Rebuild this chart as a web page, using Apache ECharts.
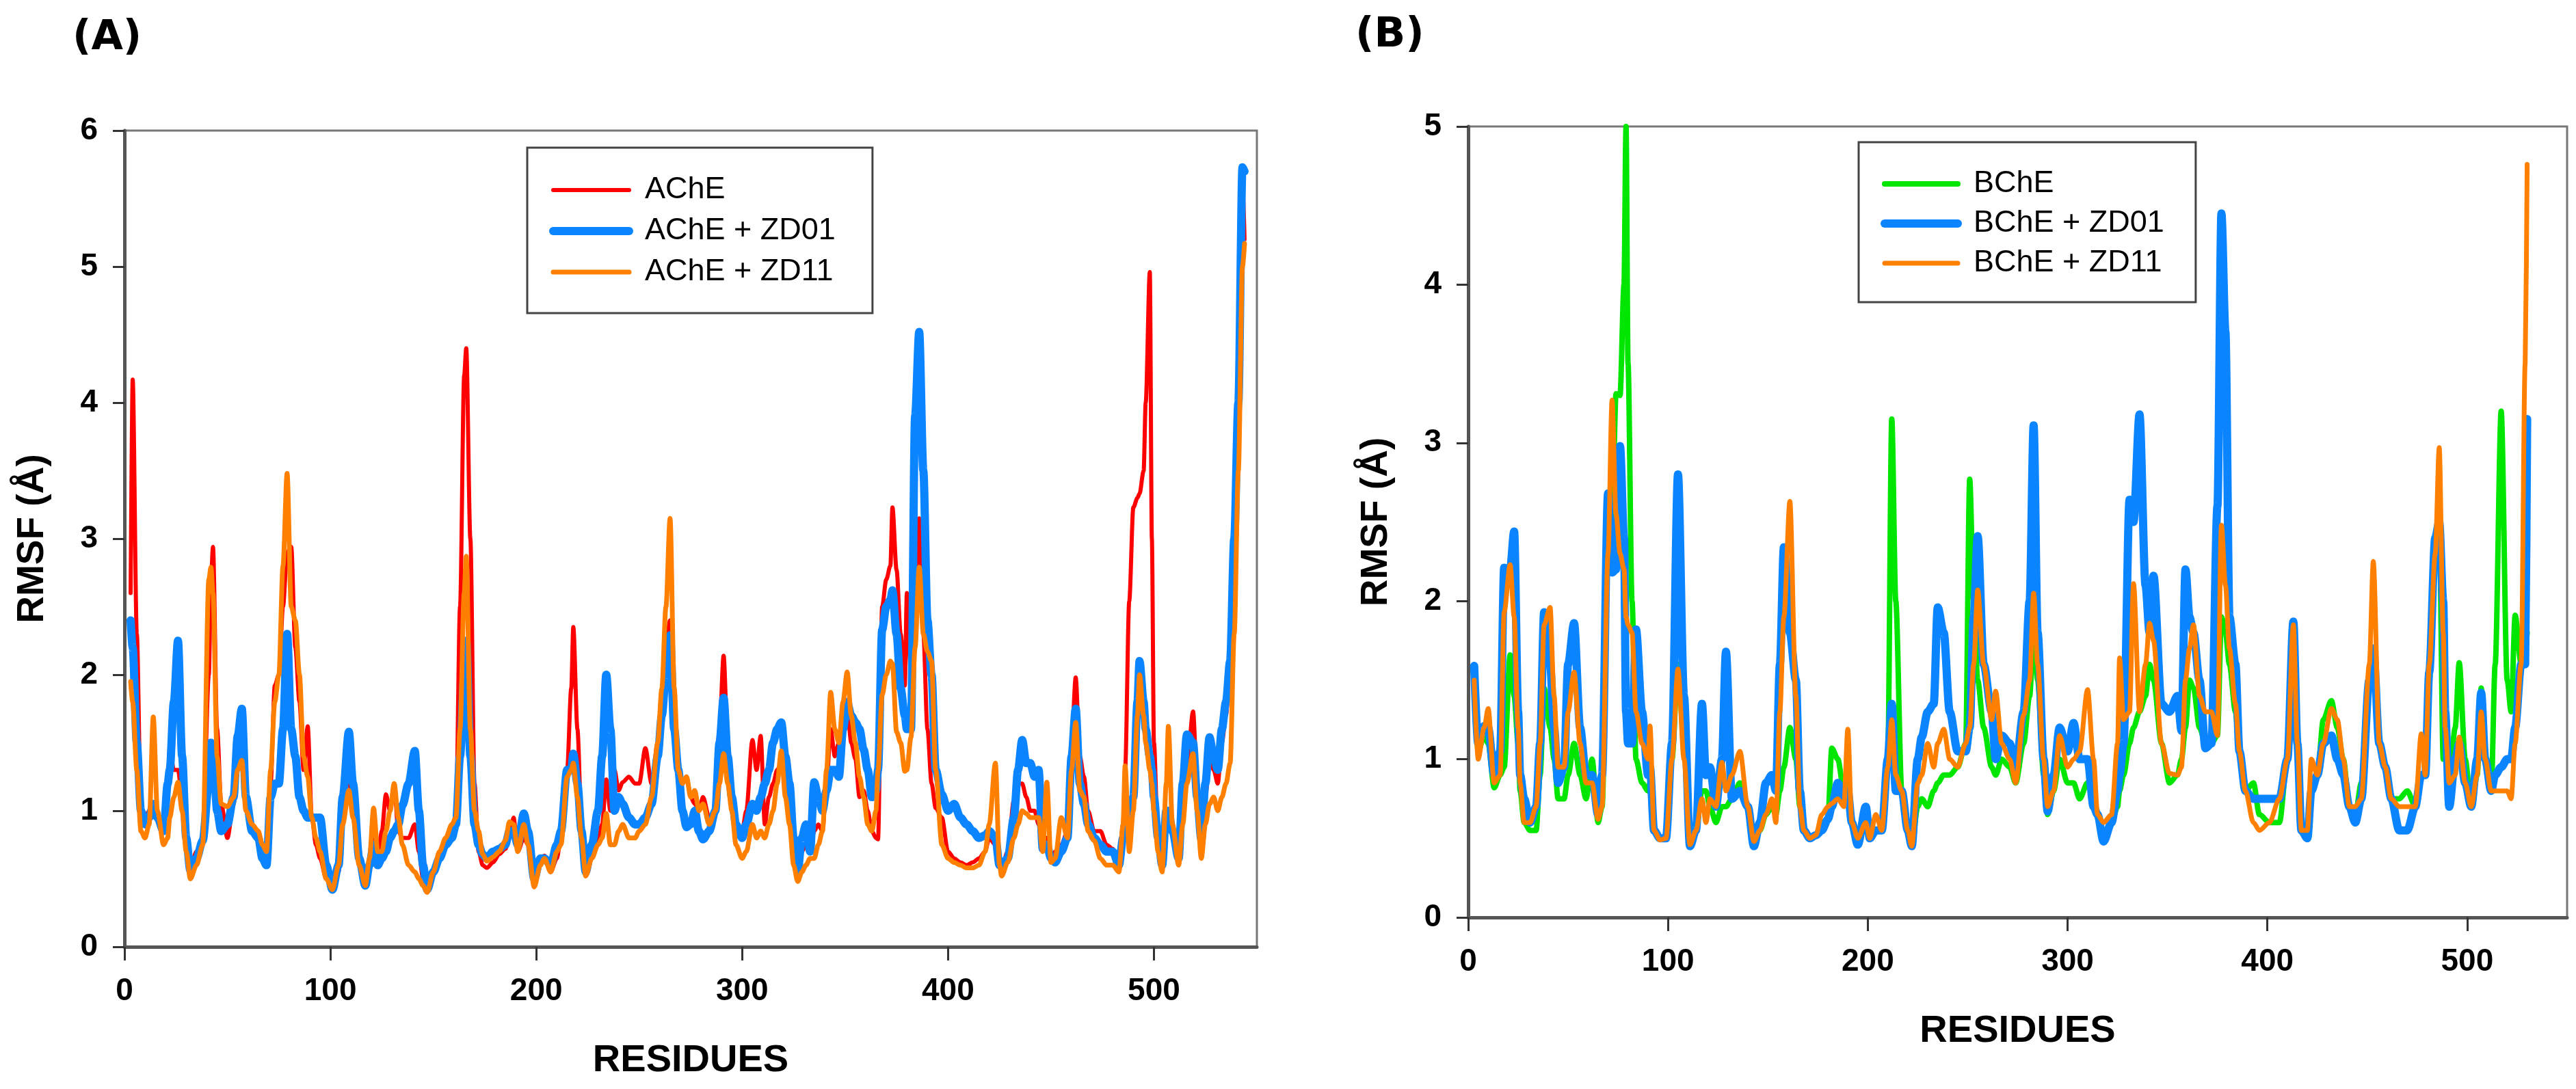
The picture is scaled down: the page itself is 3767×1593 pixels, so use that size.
<!DOCTYPE html>
<html>
<head>
<meta charset="utf-8">
<script src="https://cdn.jsdelivr.net/npm/echarts@6/dist/echarts.min.js"></script>
<style>
html,body{margin:0;padding:0;background:#fff;}
#chart{width:3767px;height:1593px;}
</style>
</head>
<body>
<div id="chart"></div>
<script>
// ---------- Tick labels ----------
const xTicks = [0, 100, 200, 300, 400, 500];

// ---------- Panel A: AChE ----------
const resA = [
  3,4,6,8,10,12,14,16,19,21,
  22,24,26,28,30,32,35,38,41,42,
  43,45,47,50,53,55,57,59,62,65,
  67,69,71,73,75,77,79,81,83,85,
  87,89,91,93,95,98,101,104,106,109,
  111,114,117,119,121,123,125,127,129,131,
  133,135,138,141,143,145,147,150,153,156,
  159,161,163,165,166,168,170,172,174,176,
  179,182,185,187,189,191,194,196,199,202,
  204,207,210,212,215,217,218,220,222,224,
  227,230,232,234,236,238,240,242,245,248,
  250,253,256,259,261,263,265,267,269,271,
  273,275,277,279,281,284,287,289,291,293,
  295,297,300,302,305,307,309,311,313,315,
  317,319,321,323,325,327,329,331,333,335,
  337,339,341,343,345,347,349,351,353,355,
  357,359,361,363,365,366,368,370,372,373,
  375,377,379,380,382,384,386,388,390,392,
  394,397,400,403,406,409,412,415,418,420,
  423,425,426,429,432,434,436,438,440,442,
  444,446,448,450,452,455,458,460,462,464,
  466,468,471,474,477,480,483,485,486,488,
  490,492,493,495,496,498,499,500,502,504,
  506,507,509,512,514,516,519,521,523,525,
  527,529,531,533,535,537,539,541,543,544
];
const ache = [
  2.6,4.17,2.3,1.0,0.95,1.0,1.05,0.95,0.85,1.2,
  1.46,1.3,1.3,1.1,0.75,0.58,0.7,0.8,2.0,2.7,
  2.94,1.6,1.05,0.8,1.05,1.3,1.4,1.0,0.85,0.8,
  0.7,0.65,1.2,1.92,2.0,2.5,2.9,2.94,2.2,1.8,
  1.3,1.62,0.95,0.75,0.65,0.5,0.42,0.55,0.95,1.3,
  1.0,0.6,0.45,0.6,0.8,0.65,0.85,1.12,1.0,1.2,
  0.85,0.8,0.8,0.9,0.7,0.5,0.42,0.55,0.65,0.75,
  0.85,0.95,2.5,4.2,4.4,3.0,1.2,0.7,0.6,0.58,
  0.62,0.68,0.72,0.8,0.95,0.7,0.8,0.75,0.46,0.6,
  0.67,0.55,0.65,0.8,1.3,1.9,2.35,1.6,0.9,0.55,
  0.7,0.8,0.9,1.23,1.0,1.3,1.15,1.21,1.25,1.2,
  1.2,1.46,1.2,1.5,1.88,2.2,2.4,1.8,1.3,1.2,
  1.25,1.1,1.05,1.0,1.1,0.95,1.0,1.6,2.14,1.5,
  1.1,0.9,0.85,1.0,1.52,1.3,1.55,0.9,1.1,1.2,
  1.3,1.35,1.2,0.9,0.75,0.55,0.7,0.75,0.7,0.85,
  0.9,0.85,1.2,1.6,1.4,1.5,1.7,1.75,1.5,1.38,
  1.1,1.15,1.0,0.85,0.8,0.79,2.5,2.7,2.8,3.23,
  2.77,2.3,1.92,2.6,2.0,2.6,3.15,2.3,1.6,1.2,
  1.02,0.95,0.7,0.65,0.62,0.6,0.62,0.65,0.7,0.8,
  0.75,0.6,0.58,0.7,1.08,1.2,1.2,1.1,1.0,1.0,
  0.9,0.72,0.8,0.65,0.7,0.75,0.85,1.5,1.98,1.4,
  1.25,1.0,0.85,0.85,0.75,0.72,0.6,0.9,1.3,2.54,
  3.23,3.3,3.33,3.5,4.0,4.96,3.0,1.5,0.75,0.6,
  1.0,1.0,0.85,0.65,1.0,1.3,1.73,1.2,0.8,1.1,
  1.4,1.3,1.2,1.5,1.7,2.1,3.0,4.0,5.6,5.2
];
const acheZD01 = [
  2.4,2.2,1.5,1.0,0.9,0.95,1.05,0.95,0.85,1.2,
  1.3,1.8,2.25,1.4,0.8,0.56,0.65,0.78,1.2,1.5,
  1.45,1.0,0.85,0.9,1.1,1.55,1.75,1.1,0.85,0.8,
  0.65,0.6,1.1,1.2,1.2,1.6,2.3,1.6,1.4,1.1,
  1.0,0.95,0.95,0.95,0.95,0.6,0.42,0.6,1.1,1.58,
  1.2,0.65,0.45,0.6,0.75,0.6,0.65,0.7,0.8,0.85,
  0.9,1.04,1.2,1.44,1.0,0.6,0.42,0.55,0.65,0.75,
  0.8,0.9,1.4,2.0,2.25,1.4,0.9,0.75,0.68,0.65,
  0.7,0.72,0.75,0.85,0.85,0.75,0.98,0.85,0.5,0.65,
  0.65,0.6,0.75,0.85,1.3,1.3,1.42,1.2,0.85,0.55,
  0.75,1.0,1.4,2.0,1.6,1.0,1.1,1.05,0.95,0.9,
  0.9,0.95,1.05,1.4,1.7,2.0,2.29,1.6,1.3,1.0,
  0.88,0.9,1.0,0.85,0.79,0.85,1.0,1.5,1.83,1.4,
  1.1,0.9,0.8,0.9,1.05,1.0,1.1,1.2,1.3,1.5,
  1.6,1.65,1.4,1.2,0.8,0.55,0.8,0.9,0.7,1.21,
  1.1,1.0,1.15,1.3,1.3,1.25,1.6,1.8,1.7,1.65,
  1.6,1.45,1.3,1.1,1.15,1.3,2.33,2.5,2.55,2.62,
  2.3,1.9,1.7,1.6,1.6,3.9,4.52,3.5,2.4,2.0,
  1.3,1.12,1.0,1.05,0.95,0.9,0.85,0.8,0.82,0.85,
  0.8,0.6,0.6,0.65,0.95,1.3,1.52,1.35,1.35,1.25,
  1.3,0.72,0.75,0.65,0.62,0.7,0.8,1.4,1.75,1.2,
  1.05,0.9,0.8,0.75,0.7,0.7,0.6,0.8,0.9,1.0,
  1.1,1.8,2.1,1.8,1.6,1.4,1.3,1.1,0.8,0.6,
  1.0,1.0,0.85,0.65,1.2,1.56,1.5,1.1,0.79,1.2,
  1.54,1.4,1.3,1.6,1.8,2.1,3.0,4.0,5.73,5.7
];
const acheZD11 = [
  1.95,1.8,1.3,0.85,0.8,0.9,1.69,1.0,0.75,0.8,
  0.95,1.1,1.21,1.0,0.7,0.5,0.6,0.75,2.7,2.79,
  2.6,1.4,1.05,1.03,1.1,1.3,1.37,1.0,0.9,0.85,
  0.75,0.7,1.3,1.8,2.0,2.8,3.48,2.5,2.4,2.0,
  1.4,1.25,0.95,0.8,0.7,0.5,0.42,0.6,0.9,1.15,
  0.95,0.6,0.45,0.65,1.02,0.7,0.7,0.85,1.0,1.2,
  0.95,0.75,0.6,0.55,0.5,0.45,0.4,0.55,0.7,0.8,
  0.9,0.95,1.6,2.6,2.87,1.6,1.0,0.85,0.68,0.63,
  0.66,0.7,0.78,0.92,0.9,0.7,0.9,0.75,0.44,0.6,
  0.65,0.55,0.7,0.75,1.25,1.3,1.35,1.1,0.8,0.52,
  0.65,0.75,0.8,0.98,0.75,0.75,0.85,0.9,0.8,0.8,
  0.85,0.9,1.1,1.5,1.9,2.5,3.15,1.9,1.3,1.2,
  1.25,1.1,1.15,1.0,1.05,0.9,1.0,1.2,1.42,1.2,
  1.0,0.75,0.65,0.7,0.9,0.8,0.85,0.8,0.9,1.0,
  1.2,1.44,1.1,0.9,0.6,0.48,0.55,0.6,0.65,0.65,
  0.75,0.85,1.3,1.87,1.6,1.5,1.8,2.02,1.7,1.5,
  1.25,1.1,0.9,0.85,1.0,1.3,1.85,2.0,2.1,2.08,
  1.58,1.5,1.29,1.3,1.54,2.2,2.79,2.3,2.17,2.1,
  1.3,0.75,0.65,0.62,0.6,0.58,0.58,0.6,0.7,0.9,
  1.35,0.6,0.52,0.62,0.8,0.9,1.0,0.98,0.95,0.95,
  0.95,0.7,1.21,0.62,0.65,0.95,0.8,1.3,1.65,1.15,
  1.1,0.85,0.78,0.65,0.6,0.6,0.55,0.9,1.33,0.7,
  1.0,1.7,2.0,1.7,1.5,1.3,1.2,1.0,0.7,0.55,
  1.2,1.62,0.9,0.6,0.9,1.2,1.42,1.0,0.65,0.9,
  1.05,1.1,1.0,1.1,1.2,1.35,2.3,3.5,5.0,5.17
];

// ---------- Panel B: BChE ----------
const resB = [
  3,5,8,10,13,16,18,21,23,25,
  26,28,31,34,36,38,41,43,45,48,
  50,53,56,59,62,65,67,70,72,74,
  76,78,79,80,82,84,87,90,91,93,
  96,99,102,105,108,111,114,117,119,121,
  124,127,129,132,136,140,143,146,149,152,
  154,156,158,161,164,166,168,171,174,177,
  180,182,185,188,190,192,195,199,201,204,
  207,210,212,214,217,220,222,225,227,230,
  233,235,238,241,245,249,251,253,255,258,
  262,264,267,271,274,278,281,283,285,288,
  290,293,296,300,303,306,310,313,315,318,
  322,325,326,328,331,333,336,339,341,343,
  347,351,355,357,359,361,363,366,369,372,
  375,377,379,381,384,386,389,393,396,401,
  406,410,413,415,417,420,422,425,428,432,
  435,438,441,444,447,451,453,456,459,462,
  466,470,474,477,479,481,484,486,488,489,
  491,494,496,499,502,505,507,509,512,514,
  517,520,522,524,527,529,530
];
const bche = [
  1.5,1.05,1.15,1.1,0.82,0.9,0.95,1.66,1.4,1.1,
  0.8,0.6,0.55,0.55,0.9,1.45,1.2,1.0,0.75,0.75,
  0.9,1.1,0.9,0.75,1.0,0.6,0.7,2.3,2.5,3.31,
  3.3,4.0,5.0,3.5,2.0,1.0,0.85,0.8,0.85,0.55,
  0.5,0.5,1.0,1.6,1.1,0.46,0.55,0.8,0.8,0.7,
  0.6,0.7,0.7,0.75,0.85,0.7,0.48,0.55,0.65,0.7,
  0.65,0.8,0.95,1.2,1.0,0.7,0.55,0.5,0.52,0.6,
  0.62,1.07,1.0,0.8,0.85,0.6,0.48,0.6,0.5,0.55,
  0.55,1.0,3.15,2.0,0.8,0.55,0.45,0.7,0.75,0.7,
  0.8,0.85,0.9,0.9,0.95,1.1,2.77,2.0,1.5,1.2,
  0.95,0.9,1.0,0.95,0.85,1.1,1.4,1.8,1.5,0.9,
  0.65,0.8,1.0,0.85,0.85,0.75,0.85,0.75,0.65,0.5,
  0.6,0.7,0.8,0.9,1.1,1.2,1.3,1.4,1.6,1.5,
  1.1,0.85,0.9,1.0,1.2,1.5,1.45,1.2,1.1,1.1,
  1.15,1.9,1.8,1.6,1.3,1.05,0.8,0.85,0.65,0.6,
  0.6,1.0,1.7,1.1,0.55,0.5,0.8,0.9,1.25,1.37,
  1.2,1.0,0.7,0.65,0.85,1.5,1.7,1.1,0.95,0.75,
  0.75,0.8,0.7,0.9,0.9,1.5,2.3,2.5,1.0,1.0,
  0.85,1.2,1.61,1.0,0.7,0.9,1.45,1.0,0.8,1.6,
  3.2,1.5,1.3,1.91,1.6,1.7,1.8
];
const bcheZD01 = [
  1.59,1.1,1.21,1.2,0.9,1.05,2.21,2.2,2.44,1.3,
  0.9,0.75,0.6,0.7,1.1,1.93,1.6,1.2,0.85,0.95,
  1.6,1.86,1.2,0.9,0.9,0.65,0.9,2.68,2.18,2.2,
  2.98,2.4,1.3,1.1,1.1,1.82,1.3,0.9,0.95,0.55,
  0.5,0.5,1.1,2.8,1.4,0.45,0.55,1.35,0.9,0.95,
  0.7,1.0,1.68,0.75,0.8,0.7,0.45,0.6,0.85,0.9,
  0.8,1.6,2.34,1.8,1.5,0.8,0.55,0.5,0.52,0.55,
  0.62,0.7,0.85,0.75,0.8,0.6,0.46,0.7,0.5,0.55,
  0.55,1.0,1.35,0.8,0.8,0.55,0.45,1.0,1.14,1.3,
  1.35,1.96,1.8,1.3,1.05,1.05,1.2,1.9,2.41,1.6,
  1.3,1.0,1.15,1.1,0.95,1.3,2.0,3.11,1.8,1.0,
  0.67,0.9,1.2,1.05,1.23,1.0,1.0,0.7,0.65,0.48,
  0.6,0.8,0.9,1.1,2.64,2.5,3.18,2.1,1.8,2.16,
  1.35,1.3,1.4,1.18,2.2,1.9,1.8,1.5,1.07,1.1,
  2.6,4.45,3.7,1.9,1.6,1.05,0.8,0.75,0.75,0.75,
  0.75,1.0,1.87,1.1,0.55,0.5,0.8,0.9,1.1,1.15,
  1.0,0.9,0.7,0.6,0.75,1.5,1.7,1.1,0.95,0.75,
  0.55,0.55,0.7,0.9,0.9,1.55,2.4,2.5,2.0,1.3,
  0.7,1.0,1.1,0.85,0.7,1.0,1.42,1.0,0.8,0.9,
  0.95,1.0,1.0,1.2,1.6,1.6,3.15
];
const bcheZD11 = [
  1.5,1.0,1.2,1.32,0.85,0.9,1.93,2.23,1.9,1.2,
  0.85,0.6,0.6,0.7,1.1,1.85,1.96,1.4,0.95,0.95,
  1.3,1.55,1.1,0.85,0.85,0.62,0.7,2.3,3.27,2.55,
  2.3,2.2,1.9,1.85,1.8,1.3,1.1,1.0,1.21,0.55,
  0.49,0.5,1.0,1.57,1.0,0.46,0.55,0.75,0.6,0.75,
  0.7,0.98,0.8,0.9,1.05,0.7,0.48,0.55,0.65,0.75,
  0.6,1.3,1.9,2.63,1.4,0.7,0.55,0.5,0.52,0.65,
  0.7,0.72,0.75,0.7,1.19,0.6,0.5,0.6,0.5,0.65,
  0.55,0.95,1.25,0.9,0.8,0.55,0.45,0.85,0.9,1.1,
  0.95,1.1,1.19,1.0,0.95,1.1,1.2,1.6,2.07,1.6,
  1.25,1.43,1.1,1.0,0.85,1.28,1.5,2.05,1.6,1.0,
  0.7,0.8,1.15,0.95,1.0,1.05,1.44,1.0,0.65,0.6,
  0.65,1.1,1.64,1.25,1.3,2.11,1.3,1.6,1.86,1.75,
  1.1,0.91,0.9,0.95,1.5,1.7,1.85,1.4,1.3,1.3,
  1.15,2.48,2.1,1.7,1.35,1.05,0.8,0.6,0.55,0.6,
  0.75,1.0,1.85,1.1,0.55,0.55,1.0,0.9,1.1,1.32,
  1.25,1.0,0.7,0.7,0.75,1.6,2.25,1.1,0.95,0.75,
  0.7,0.7,0.7,1.16,0.9,1.6,2.3,2.97,1.8,1.2,
  0.85,0.9,1.14,0.85,0.7,0.9,1.3,1.0,0.8,0.8,
  0.8,0.8,0.75,1.1,1.6,3.5,4.76
];

// ---------- Build chart ----------
const pair = (xs, ys) => xs.map((x, i) => [x, ys[i]]);
const BOLD = 'Liberation Sans';
const LEG = "'Liberation Sans', Arial, sans-serif";

function lineSeries(name, xs, ys, color, width, idx) {
  return {
    name: name, type: 'line', xAxisIndex: idx, yAxisIndex: idx,
    data: pair(xs, ys), symbol: 'none', showSymbol: false,
    smooth: 0.3, smoothMonotone: 'x',
    lineStyle: { color: color, width: width, join: 'round', cap: 'round' },
    itemStyle: { color: color },
    emphasis: { disabled: true },
    animation: false
  };
}

function xAxisDef(idx) {
  return {
    gridIndex: idx, type: 'value', min: 0, max: 550, interval: 100,
    name: 'RESIDUES', nameLocation: 'middle', nameGap: 139,
    nameTextStyle: { fontFamily: BOLD, fontWeight: 'bold', fontSize: 56, color: '#000' },
    axisLine: { onZero: false, lineStyle: { color: '#555', width: 5 } },
    axisTick: { show: true, length: 20, lineStyle: { color: '#333', width: 3 }, customValues: xTicks },
    axisLabel: { customValues: xTicks, margin: 42, fontFamily: BOLD, fontWeight: 'bold', fontSize: 46, color: '#000' },
    splitLine: { show: false }
  };
}
function yAxisDef(idx, max, gap) {
  return {
    gridIndex: idx, type: 'value', min: 0, max: max, interval: 1,
    name: 'RMSF (Å)', nameLocation: 'middle', nameRotate: 90, nameGap: gap,
    nameTextStyle: { fontFamily: BOLD, fontWeight: 'bold', fontSize: 55, color: '#000' },
    axisLine: { show: true, onZero: false, lineStyle: { color: '#555', width: 5 } },
    axisTick: { show: true, length: 17, lineStyle: { color: '#333', width: 3 } },
    axisLabel: { margin: 39, fontFamily: BOLD, fontWeight: 'bold', fontSize: 46, color: '#000' },
    splitLine: { show: false }
  };
}
function legendDef(names, left, top, itemWidth, gap, padding) {
  return {
    orient: 'vertical', left: left, top: top, data: names,
    itemWidth: itemWidth, itemHeight: 46, itemGap: gap, padding: padding,
    backgroundColor: '#fff', borderColor: '#444', borderWidth: 3,
    textStyle: { fontFamily: LEG, fontSize: 45, lineHeight: 46, color: '#000', padding: [0, 0, 0, 18] },
    lineStyle: { width: 'inherit' },
    itemStyle: { opacity: 0 },
    selectedMode: false
  };
}

const chart = echarts.init(document.getElementById('chart'));
chart.setOption({
  backgroundColor: '#fff',
  animation: false,
  title: [
    { text: '(A)', left: 106, top: 26, padding: 0, textStyle: { fontFamily: 'DejaVu Sans', fontWeight: 'bold', fontSize: 60, color: '#000' } },
    { text: '(B)', left: 1982, top: 22, padding: 0, textStyle: { fontFamily: 'DejaVu Sans', fontWeight: 'bold', fontSize: 60, color: '#000' } }
  ],
  grid: [
    { left: 182, top: 191, width: 1656, height: 1194, show: true, borderColor: '#777', borderWidth: 3, containLabel: false },
    { left: 2147, top: 185, width: 1607, height: 1157, show: true, borderColor: '#777', borderWidth: 3, containLabel: false }
  ],
  xAxis: [xAxisDef(0), xAxisDef(1)],
  yAxis: [yAxisDef(0, 6, 107), yAxisDef(1, 5, 107)],
  legend: [
    legendDef(['AChE', 'AChE + ZD01', 'AChE + ZD11'], 771, 216, 111, 14, [39, 54, 37, 32]),
    legendDef(['BChE', 'BChE + ZD01', 'BChE + ZD11'], 2718, 208, 107, 12, [38, 46, 34, 32])
  ],
  series: [
    lineSeries('AChE', resA, ache, '#ff0000', 6, 0),
    lineSeries('AChE + ZD01', resA, acheZD01, '#0a84ff', 12, 0),
    lineSeries('AChE + ZD11', resA, acheZD11, '#ff8000', 7, 0),
    lineSeries('BChE', resB, bche, '#00e600', 8, 1),
    lineSeries('BChE + ZD01', resB, bcheZD01, '#0a84ff', 12, 1),
    lineSeries('BChE + ZD11', resB, bcheZD11, '#ff8000', 7, 1)
  ]
});
</script>
</body>
</html>
